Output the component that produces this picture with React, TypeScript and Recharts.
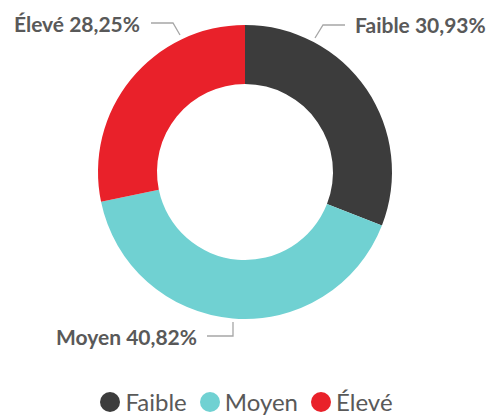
import { PieChart, Pie, Cell, Legend } from 'recharts'

const categories = ['Faible', 'Moyen', 'Élevé']
const shares = [30.93, 40.82, 28.25]
const colors = ['#3c3c3c', '#70d1d2', '#e9212a']

const data = categories.map((name, i) => ({ name, value: shares[i] }))

const font = 'Lato, "Open Sans", sans-serif'

// leader line + text placement, relative to the pie centre
const labelLayout = [
  { pts: [[70, -134], [78, -147], [100, -147]], tx: 110, ty: -139, anchor: 'start' },
  { pts: [[-38, 164], [-12, 164], [-12, 150]], tx: -48, ty: 173, anchor: 'end' },
  { pts: [[-94, -149], [-72, -149], [-65, -137]], tx: -105, ty: -140, anchor: 'end' },
]

const renderLabel = (props: any) => {
  const { cx, cy, index, name, value } = props
  const l = labelLayout[index]
  const d = l.pts.map((p, i) => `${i ? 'L' : 'M'}${cx + p[0]},${cy + p[1]}`).join(' ')
  return (
    <g>
      <path d={d} stroke="#a6a6a6" strokeWidth={1.3} fill="none" />
      <text
        x={cx + l.tx}
        y={cy + l.ty}
        textAnchor={l.anchor as any}
        fill="#595959"
        fontFamily={font}
        fontWeight={700}
        fontSize={21}
      >
        {`${name} ${value.toFixed(2).replace('.', ',')}%`}
      </text>
    </g>
  )
}

const renderLegend = () => (
  <div style={{ display: 'flex', justifyContent: 'center', gap: 13, fontFamily: font, fontSize: 24, color: '#595959', lineHeight: '30px', height: 32 }}>
    {categories.map((c, i) => (
      <div key={c} style={{ display: 'flex', alignItems: 'center', gap: 5 }}>
        <span style={{ width: 20, height: 20, borderRadius: 10, background: colors[i], display: 'inline-block' }} />
        <span>{c}</span>
      </div>
    ))}
  </div>
)

export default function App() {
  return (
    <div style={{ position: 'absolute', left: 0, top: 0, background: '#fff' }}>
      <PieChart width={493} height={418} margin={{ top: 0, right: 0, bottom: 0, left: 0 }}>
        <Pie
          data={data}
          dataKey="value"
          nameKey="name"
          cx={245}
          cy={172}
          innerRadius={88}
          outerRadius={147}
          startAngle={90}
          endAngle={-270}
          stroke="none"
          label={renderLabel}
          labelLine={false}
          isAnimationActive={false}
        >
          {data.map((d, i) => (
            <Cell key={d.name} fill={colors[i]} />
          ))}
        </Pie>
        <Legend content={renderLegend} verticalAlign="bottom" wrapperStyle={{ bottom: 0 }} />
      </PieChart>
    </div>
  )
}
